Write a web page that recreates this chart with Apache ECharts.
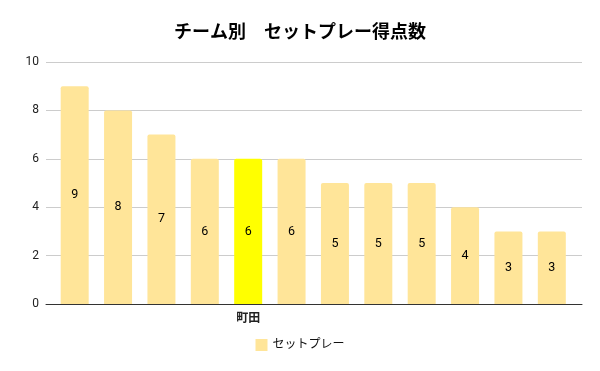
<!DOCTYPE html>
<html>
<head>
<meta charset="utf-8">
<script src="https://cdn.jsdelivr.net/npm/echarts@6/dist/echarts.min.js"></script>
<style>html,body{margin:0;padding:0;background:#fff;}#c{width:600px;height:371px;}</style>
</head>
<body>
<div id="c"></div>
<script>
const categories = ['', '', '', '', '町田', '', '', '', '', '', '', ''];
const values = [9, 8, 7, 6, 6, 6, 5, 5, 5, 4, 3, 3];
const highlightCategory = '町田';
const yTicks = { min: 0, max: 10, interval: 2 };
const seriesName = 'セットプレー';
const titleText = 'チーム別　セットプレー得点数';

const baseColor = '#FFE599';
const hiColor = '#FFFF00';
const FONT = 'Roboto, "Noto Sans CJK JP", sans-serif';

const chart = echarts.init(document.getElementById('c'), null, { renderer: 'canvas' });
chart.setOption({
  animation: false,
  backgroundColor: '#fff',
  textStyle: { fontFamily: FONT },
  title: {
    text: titleText, left: 'center', top: 20,
    textStyle: { fontSize: 18, fontWeight: 'bold', color: '#000', fontFamily: FONT }
  },
  legend: {
    data: [{ name: seriesName, itemStyle: { color: baseColor } }],
    top: 334, left: 'center', icon: 'rect', itemWidth: 12, itemHeight: 12, itemGap: 8,
    textStyle: { fontSize: 12, color: '#111', fontFamily: FONT }
  },
  grid: [
    { left: 46, right: 18, top: 62, bottom: 67 },
    { left: 53, right: 26.5, top: 62, bottom: 67 }
  ],
  xAxis: [
    { type: 'value', gridIndex: 0, min: 0, max: 1,
      axisLine: { show: true, onZero: false, lineStyle: { color: '#333', width: 1 } },
      axisTick: { show: false }, axisLabel: { show: false }, splitLine: { show: false } },
    { type: 'category', gridIndex: 1, data: categories,
      axisLine: { show: false }, axisTick: { show: false },
      axisLabel: { show: true, interval: 0, margin: 9, fontSize: 12, fontWeight: 'bold', color: '#222', fontFamily: FONT },
      splitLine: { show: false } }
  ],
  yAxis: [
    { type: 'value', gridIndex: 0, min: yTicks.min, max: yTicks.max, interval: yTicks.interval,
      axisLine: { show: false }, axisTick: { show: false },
      axisLabel: { fontSize: 12, color: '#222', margin: 7, fontFamily: FONT },
      splitLine: { show: true, lineStyle: { color: '#cccccc', width: 1 } } },
    { type: 'value', gridIndex: 1, min: yTicks.min, max: yTicks.max, interval: yTicks.interval,
      show: false, splitLine: { show: false } }
  ],
  series: [{
    name: seriesName, type: 'bar', xAxisIndex: 1, yAxisIndex: 1,
    barWidth: 28,
    data: values.map((v, i) => ({
      value: v,
      itemStyle: { color: categories[i] === highlightCategory ? hiColor : baseColor }
    })),
    itemStyle: { color: baseColor, borderRadius: [2, 2, 0, 0] },
    label: { show: true, position: 'inside', fontSize: 12.5, color: '#000', fontFamily: FONT }
  }]
});
</script>
</body>
</html>
